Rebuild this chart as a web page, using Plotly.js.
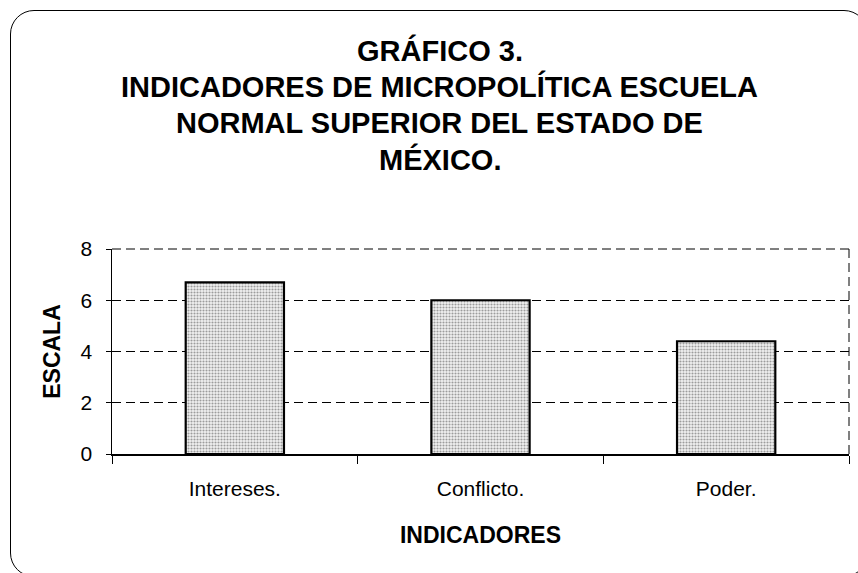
<!DOCTYPE html>
<html>
<head>
<meta charset="utf-8">
<script src="https://cdn.plot.ly/plotly-3.0.1.min.js"></script>
<style>
    html, body { margin: 0; padding: 0; background: #fff; overflow: hidden; }
    #frame {
        position: absolute; left: 10px; top: 10px;
        width: 858px; height: 567px;
        border: 1.5px solid #000; border-radius: 24px;
        box-sizing: border-box;
    }
    #chart { position: absolute; left: 0; top: 0; width: 858px; height: 573px; }
</style>
</head>
<body>
<div id="frame"></div>
<div id="chart"></div>
<script>
// --- DATA ---
const categories = ['Intereses.', 'Conflicto.', 'Poder.'];
const values = [6.7, 6.0, 4.4];
const yTicks = [0, 2, 4, 6, 8];
const titleLines = [
    'GRÁFICO 3.',
    'INDICADORES DE MICROPOLÍTICA ESCUELA',
    'NORMAL SUPERIOR DEL ESTADO DE',
    'MÉXICO.'
];

const FONT = '"Liberation Sans", Arial, sans-serif';
const PLOT_TOP = 249, PLOT_H = 205;

const trace = {
    type: 'bar',
    x: categories,
    y: values,
    marker: {
        color: '#ffffff',
        line: { color: '#000', width: 2.2 },
        pattern: { shape: '.', size: 3, solidity: 0.4, fgcolor: '#9c9c9c', bgcolor: '#f2f2f2' }
    },
    hoverinfo: 'skip'
};

// title lines as separate annotations so the line spacing matches
const titleAnnotations = titleLines.map((line, i) => ({
    text: '<b>' + line + '</b>',
    xref: 'paper', yref: 'paper',
    x: 0.445, y: 1 + (PLOT_TOP - (50 + i * 36.5)) / PLOT_H,
    xanchor: 'center', yanchor: 'middle',
    showarrow: false,
    font: { family: FONT, size: 29, color: '#000' }
}));

const layout = {
    width: 858, height: 573,
    autosize: false,
    paper_bgcolor: 'rgba(0,0,0,0)',
    plot_bgcolor: 'rgba(0,0,0,0)',
    margin: { l: 112, r: 9, t: PLOT_TOP, b: 573 - PLOT_TOP - PLOT_H },
    showlegend: false,
    bargap: 0.6,
    font: { family: FONT, size: 21, color: '#000' },
    xaxis: {
        type: 'category',
        tickson: 'boundaries',
        ticks: 'outside', ticklen: 8, tickcolor: '#000', tickwidth: 1,
        showline: true, linecolor: '#000', linewidth: 1.5,
        showgrid: false, zeroline: false,
        tickfont: { family: FONT, size: 21 },
        ticklabelstandoff: 15,
        title: { text: '<b>INDICADORES</b>', standoff: 28, font: { family: FONT, size: 23 } },
        automargin: false
    },
    yaxis: {
        range: [0, 8],
        tickvals: yTicks,
        ticks: 'outside', ticklen: 5, tickcolor: '#000', tickwidth: 1,
        showline: true, linecolor: '#000', linewidth: 1.5,
        showgrid: true, gridcolor: '#000', gridwidth: 1, griddash: '9px,5px',
        zeroline: false,
        tickfont: { family: FONT, size: 21 },
        ticklabelstandoff: 9,
        title: { text: '<b>ESCALA</b>', standoff: 13, font: { family: FONT, size: 23 } },
        automargin: false
    },
    shapes: [
        {
            type: 'line', xref: 'paper', yref: 'paper',
            x0: 1, x1: 1, y0: 0, y1: 1,
            line: { color: '#000', width: 1, dash: '9px,5px' }
        },
        {
            type: 'line', xref: 'paper', yref: 'paper',
            x0: 0, x1: 1, y0: 1, y1: 1,
            line: { color: '#000', width: 1, dash: '9px,5px' }
        }
    ],
    annotations: titleAnnotations
};

Plotly.newPlot('chart', [trace], layout, { displayModeBar: false, staticPlot: true });
</script>
</body>
</html>
